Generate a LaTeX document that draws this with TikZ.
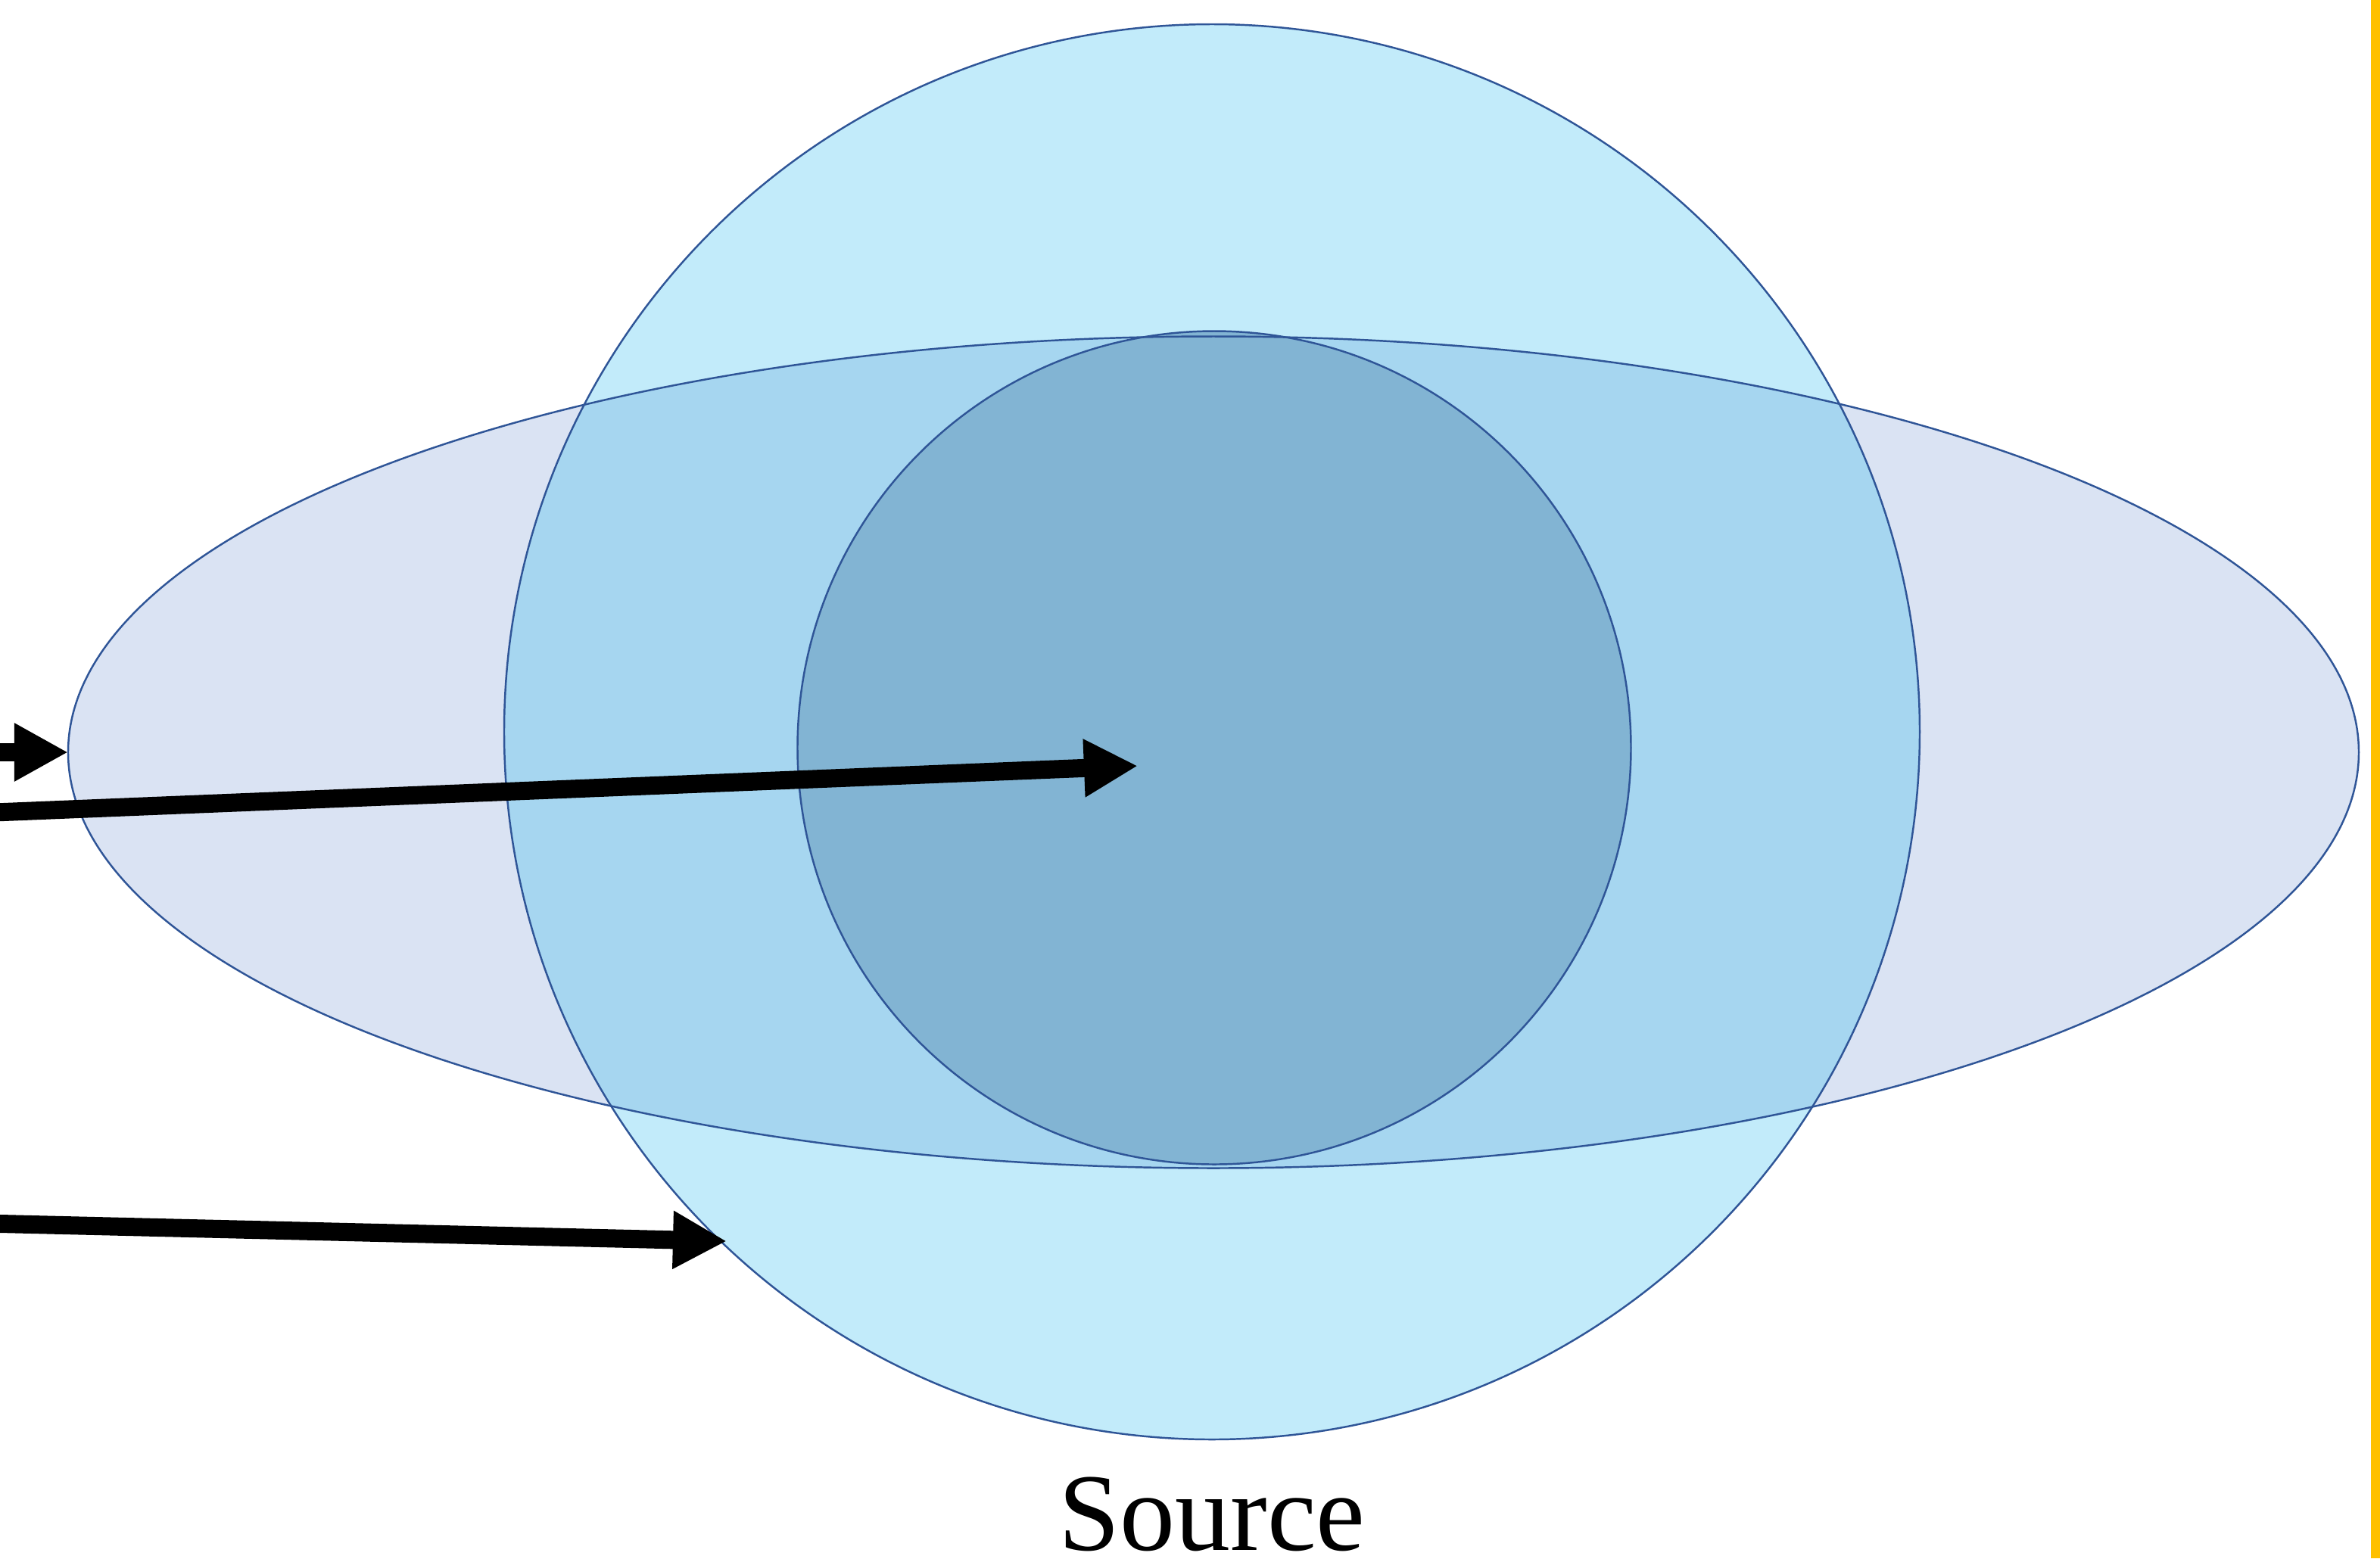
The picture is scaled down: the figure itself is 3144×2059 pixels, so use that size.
\documentclass[tikz,border=0pt]{standalone}
\usepackage{fontspec}
\setmainfont{Liberation Serif}
\usetikzlibrary{arrows.meta}
\definecolor{ringline}{HTML}{2F5597}
\definecolor{discfill}{HTML}{DAE3F3}
\definecolor{spherefill}{HTML}{C2EBFA}
\definecolor{overlapfill}{HTML}{A6D6F0}
\definecolor{corefill}{HTML}{82B4D3}
\definecolor{barfill}{HTML}{FFC000}
\tikzset{
  outline/.style={draw=ringline, line width=0.7pt},
  ray/.style={line width=0.24cm, -{Triangle[length=0.71cm,width=0.72cm]}},
}
\begin{document}
\begin{tikzpicture}[x=0.01cm,y=-0.01cm]
\useasboundingbox (0,0) rectangle (3144,2059);
% centres of the three shapes
\coordinate (discC) at (1603,994);
\coordinate (sphereC) at (1601,967);
\coordinate (coreC) at (1604,988);
\coordinate (discW) at (90,994);
% fills
\fill[discfill] (discC) ellipse [x radius=1513, y radius=549.5];
\fill[spherefill] (sphereC) circle [radius=935];
\begin{scope}
  \clip (discC) ellipse [x radius=1513, y radius=549.5];
  \fill[overlapfill] (sphereC) circle [radius=935];
\end{scope}
\fill[corefill] (coreC) circle [radius=550.5];
% outlines
\draw[outline] (discC) ellipse [x radius=1513, y radius=549.5];
\draw[outline] (sphereC) circle [radius=935];
\draw[outline] (coreC) circle [radius=550.5];
% rays
\coordinate (r1s) at (-20,994);
\coordinate (r2s) at (-20,1074);
\coordinate (r2e) at (1503,1012);
\coordinate (r3s) at (-20,1616.5);
\coordinate (r3e) at (960,1640);
\draw[ray] (r1s) -- (discW);
\draw[ray] (r2s) -- (r2e);
\draw[ray] (r3s) -- (r3e);
% label
\node[anchor=base, inner sep=0pt, font=\fontsize{41.5}{49}\selectfont] (src) at (1601,2048) {Source};
% side bar
\fill[barfill] (3132,0) rectangle (3144,2059);
\end{tikzpicture}
\end{document}
